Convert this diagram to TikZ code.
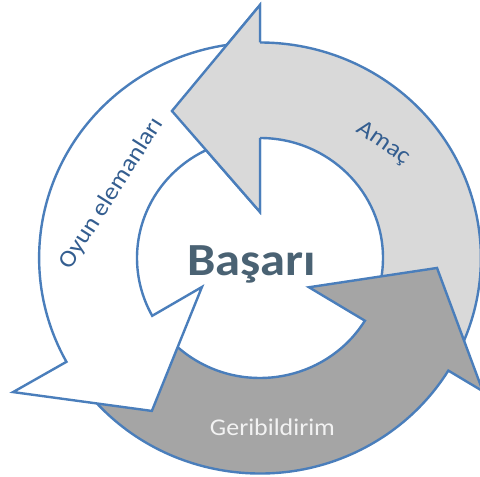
\documentclass[tikz,border=0pt]{standalone}
\usepackage{fontspec}
\setmainfont{Carlito}
\newfontfamily\labelfont[FakeStretch=1.08]{Carlito}
\newfontfamily\centerfont[FakeStretch=1.1]{Carlito}
\definecolor{ringblue}{HTML}{4A7EBB}
\definecolor{amacgray}{HTML}{D9D9D9}
\definecolor{gerigray}{HTML}{A5A5A5}
\definecolor{labelblue}{HTML}{345E90}
\definecolor{centertext}{HTML}{4A6273}
\definecolor{geritext}{HTML}{F2F2F2}
\begin{document}
\begin{tikzpicture}[x=1pt,y=1pt,
  ring/.style={draw=ringblue, line width=2.4pt, line join=miter},
  lbl/.style={font=\labelfont\fontsize{24}{24}\selectfont, inner sep=0pt}]
\useasboundingbox (-260,-219) rectangle (220,258);
\clip (-260,-219) rectangle (220,258);
\begin{scope}[xscale=1.025]
  % Amaç: from the right side up to the top, head pointing left
  \path[ring, fill=amacgray] (-29:215.5) arc[start angle=-29, end angle=90, radius=215.5]
    -- (90:253) -- (120.3:170.3) -- (90:46) -- (90:120)
    arc[start angle=90, end angle=-29, radius=120] -- cycle;
  % Geribildirim: along the bottom, head pointing up on the right
  \path[ring, fill=gerigray] (213:215.5) arc[start angle=213, end angle=328.5, radius=215.5]
    -- (328.5:255) -- (356.7:173) -- (328.5:56) -- (328.5:120)
    arc[start angle=328.5, end angle=213, radius=120] -- cycle;
  % Oyun elemanları: down the left side, head pointing down
  \path[ring, fill=white] (95:215.5) arc[start angle=95, end angle=208.8, radius=215.5]
    -- (209.1:275.7) -- (235.4:185.8) -- (207.1:63.6) -- (208.8:120)
    arc[start angle=208.8, end angle=95, radius=120] -- cycle;
  % head of Amaç laid again over the tail of the white arrow
  \fill[amacgray] (90:253) -- (120.3:170.3) -- (90:46) -- cycle;
  \draw[ring] (90:215.5) -- (90:253) -- (120.3:170.3) -- (90:46) -- (90:120);
\end{scope}
\node[anchor=base, inner sep=0pt, text=centertext,
  font=\centerfont\fontsize{46}{46}\selectfont\bfseries] (basari) at (-8.5,-17.5) {Başarı};
\node[anchor=base, rotate=-35, lbl, text=labelblue] (amac) at (120,110) {Amaç};
\node[anchor=base, rotate=57.5, lbl, text=labelblue] (oyun) at (-143,61) {Oyun elemanları};
\node[anchor=base, lbl, text=geritext] (geri) at (12.5,-177) {Geribildirim};
\end{tikzpicture}
\end{document}
